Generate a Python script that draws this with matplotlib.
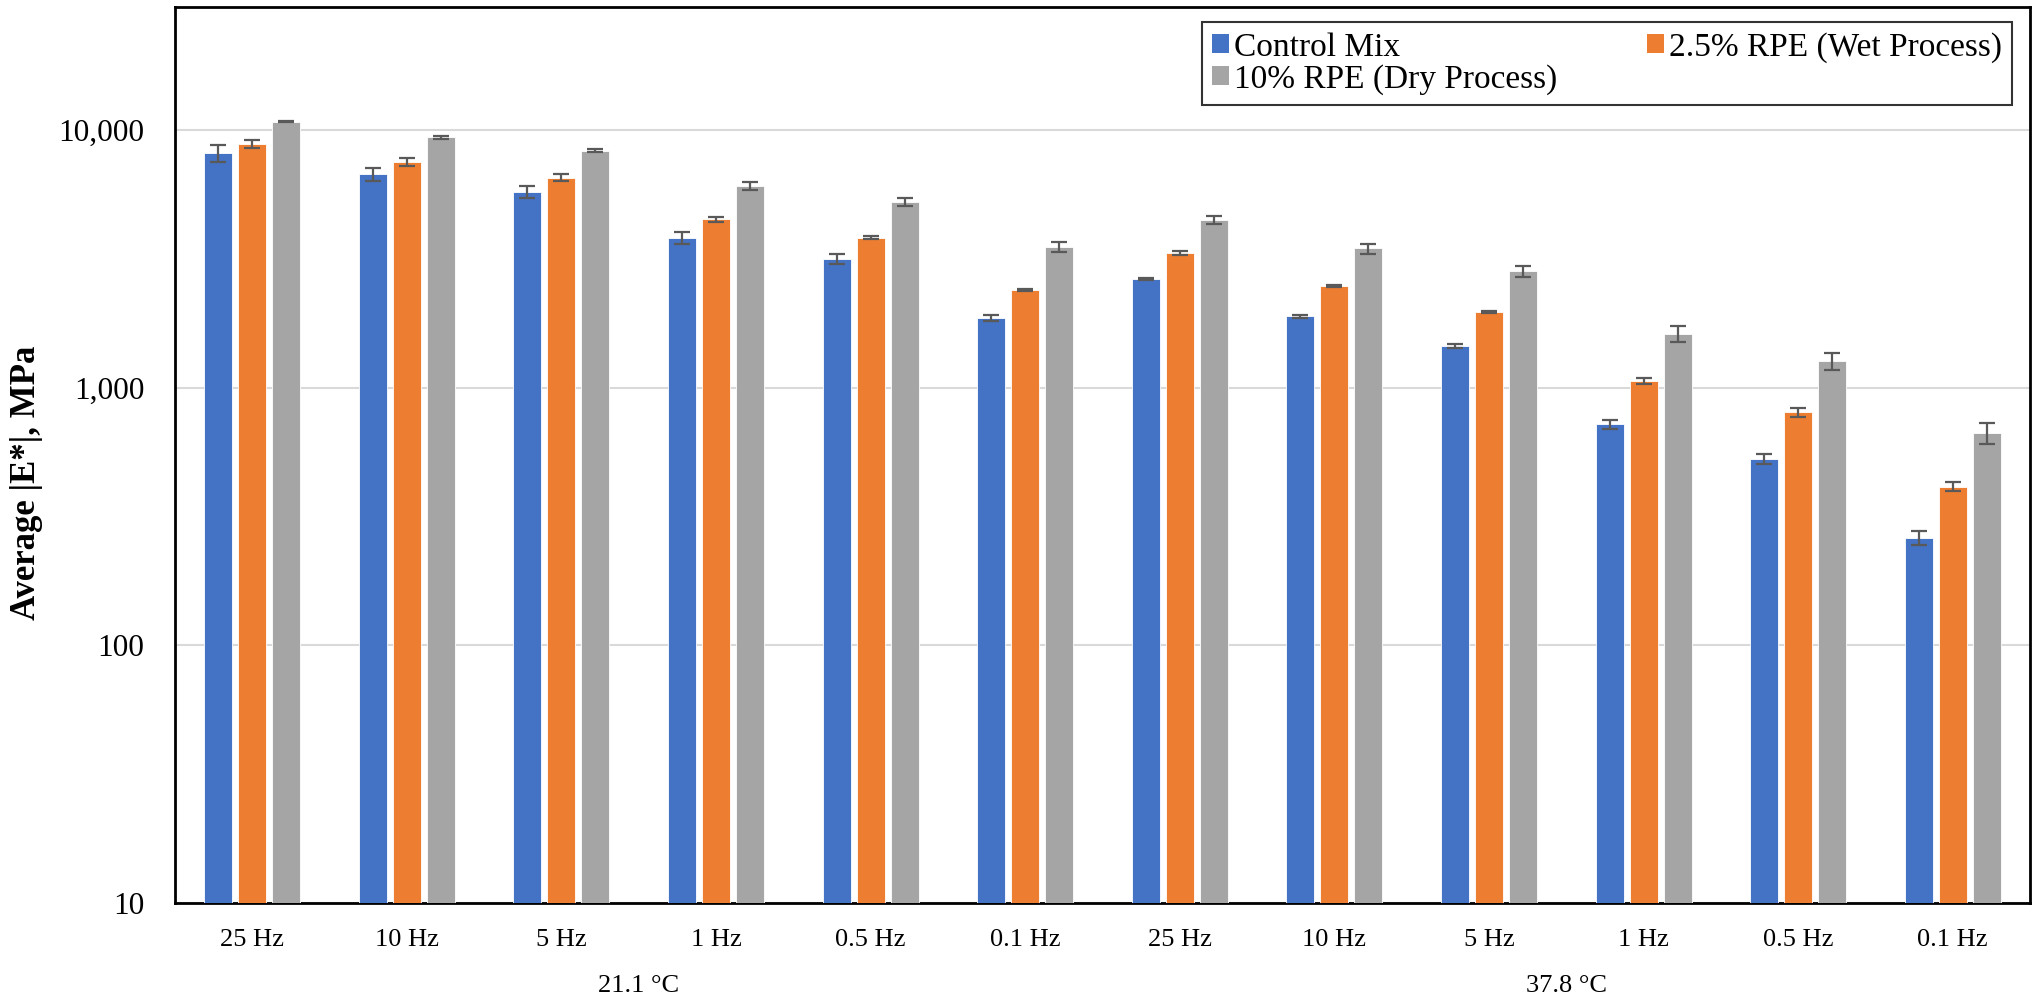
import matplotlib
matplotlib.use("Agg")
import matplotlib.pyplot as plt
import numpy as np
from matplotlib.ticker import FuncFormatter, FixedLocator, NullLocator
from matplotlib.patches import Patch

plt.rcParams['font.family'] = ['Liberation Serif', 'DejaVu Serif']

freq_labels = ['25 Hz', '10 Hz', '5 Hz', '1 Hz', '0.5 Hz', '0.1 Hz',
               '25 Hz', '10 Hz', '5 Hz', '1 Hz', '0.5 Hz', '0.1 Hz']
temp_labels = ['21.1 °C', '37.8 °C']
series_names = ['Control Mix', '2.5% RPE (Wet Process)', '10% RPE (Dry Process)']

control = [8120, 6730, 5755, 3814, 3162, 1867, 2646, 1889, 1455, 721, 529, 261]
wet = [8826, 7500, 6530, 4507, 3814, 2391, 3326, 2485, 1970, 1062, 802, 413]
dry = [10740, 9380, 8290, 6067, 5260, 3520, 4480, 3467, 2833, 1614, 1265, 667]

control_err = [600, 410, 330, 200, 140, 50, 20, 20, 28, 27, 23, 16]
wet_err = [300, 250, 190, 100, 55, 20, 50, 20, 20, 32, 30, 17]
dry_err = [50, 120, 110, 200, 190, 165, 150, 155, 140, 115, 95, 63]

colors = ['#4472C4', '#ED7D31', '#A5A5A5']

W, H = 2034, 997
fig = plt.figure(figsize=(W / 100, H / 100), dpi=100)
ax = fig.add_axes([175 / W, 1 - 903 / H, (2030 - 175) / W, (903 - 7) / H])

x = np.arange(len(freq_labels))
bw = 0.181
pitch = 0.22
all_vals = [control, wet, dry]
all_errs = [control_err, wet_err, dry_err]
for i, (vals, errs, c, name) in enumerate(zip(all_vals, all_errs, colors, series_names)):
    ax.bar(x + (i - 1) * pitch, vals, width=bw, color=c, edgecolor='white',
           linewidth=0.6, zorder=3, label=name)
    ax.errorbar(x + (i - 1) * pitch, vals, yerr=errs, fmt='none',
                ecolor='#595959', elinewidth=1.6, capsize=6, capthick=1.6, zorder=4)

ax.set_yscale('log')
ax.set_ylim(10, 30000)
ax.set_xlim(-0.5, len(freq_labels) - 0.5)
ax.yaxis.set_major_locator(FixedLocator([10, 100, 1000, 10000]))
ax.yaxis.set_minor_locator(NullLocator())
ax.yaxis.set_major_formatter(FuncFormatter(lambda v, p: f'{int(round(v)):,}'))
ax.set_xticks(x)
ax.set_xticklabels(freq_labels, fontsize=19)
ax.tick_params(axis='x', length=0, pad=19)
ax.tick_params(axis='y', length=0, pad=22, labelsize=22.5)
ax.grid(axis='y', color='#d9d9d9', linewidth=1.5, zorder=0)
ax.set_axisbelow(True)
for sp in ax.spines.values():
    sp.set_linewidth(2)
    sp.set_color('black')

ax.set_ylabel('Average |E*|, MPa', fontsize=25, fontweight='bold')
ax.yaxis.set_label_coords(-0.071, 0.469)

# temperature group labels
for k, t in enumerate(temp_labels):
    ax.text(k * 6 + 2.5, -0.093, t, transform=ax.get_xaxis_transform(),
            ha='center', va='center', fontsize=19)

handles = [Patch(facecolor=c, edgecolor='none') for c in colors]
order = [0, 2, 1]
leg = fig.legend([handles[i] for i in order], [series_names[i] for i in order],
                 loc='upper right', bbox_to_anchor=(2012 / W, 1 - 22 / H),
                 ncol=2, fontsize=24, frameon=True, fancybox=False,
                 edgecolor='black', borderaxespad=0, handlelength=0.5,
                 handleheight=0.5, handletextpad=0.15, columnspacing=2.7,
                 labelspacing=0.05, borderpad=0.3)
leg.get_frame().set_linewidth(1.5)

fig.savefig('out.png', dpi=100)
